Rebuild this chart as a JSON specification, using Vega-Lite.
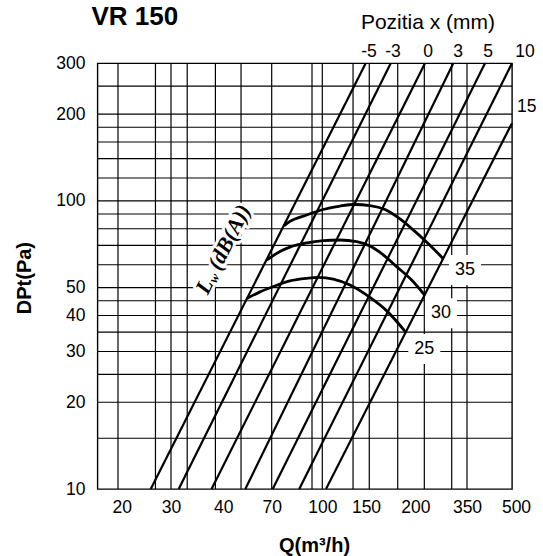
{
  "$schema": "https://vega.github.io/schema/vega-lite/v6.json",
  "width": 414.5,
  "height": 425.7,
  "autosize": {"type": "none"},
  "padding": {"left": 97.5, "top": 63.3, "right": 31, "bottom": 67},
  "background": "white",
  "title": {
    "text": "VR 150",
    "anchor": "start",
    "frame": "group",
    "font": "Liberation Sans",
    "fontSize": 26,
    "fontWeight": "bold",
    "color": "black",
    "baseline": "alphabetic",
    "offset": 0,
    "dx": -6,
    "dy": 39
  },
  "config": {
    "font": "Liberation Sans",
    "view": {"stroke": "black", "strokeWidth": 1.4},
    "axis": {
      "grid": false,
      "ticks": false,
      "tickSize": 0,
      "domain": false,
      "labelFont": "Liberation Sans",
      "labelFontSize": 17.5,
      "labelColor": "black",
      "labelFlush": false,
      "labelOverlap": false,
      "titleFont": "Liberation Sans",
      "titleFontSize": 20,
      "titleFontWeight": "bold",
      "titleColor": "black"
    }
  },
  "datasets": {
    "grid_q": [
      {"Q": 19.4}, {"Q": 26.4}, {"Q": 30}, {"Q": 32.8}, {"Q": 38.3},
      {"Q": 49.1}, {"Q": 70}, {"Q": 93}, {"Q": 100}, {"Q": 133},
      {"Q": 152.9}, {"Q": 180.5}, {"Q": 220.5}, {"Q": 296.6}, {"Q": 350}
    ],
    "grid_dp": [
      {"DPt": 15}, {"DPt": 20}, {"DPt": 25}, {"DPt": 30}, {"DPt": 35},
      {"DPt": 40}, {"DPt": 45}, {"DPt": 50}, {"DPt": 60}, {"DPt": 70},
      {"DPt": 80}, {"DPt": 90}, {"DPt": 100}, {"DPt": 120}, {"DPt": 140},
      {"DPt": 160}, {"DPt": 180}, {"DPt": 200}, {"DPt": 250}
    ],
    "positions": [
      {"pos": "-5", "Q": 25.4, "DPt": 10}, {"pos": "-5", "Q": 149.6, "DPt": 300},
      {"pos": "-3", "Q": 31.3, "DPt": 10}, {"pos": "-3", "Q": 173.3, "DPt": 300},
      {"pos": "0", "Q": 37.5, "DPt": 10}, {"pos": "0", "Q": 222.1, "DPt": 300},
      {"pos": "3", "Q": 51.6, "DPt": 10}, {"pos": "3", "Q": 301.8, "DPt": 300},
      {"pos": "5", "Q": 70.5, "DPt": 10}, {"pos": "5", "Q": 399, "DPt": 300},
      {"pos": "10", "Q": 85, "DPt": 10}, {"pos": "10", "Q": 485.6, "DPt": 300},
      {"pos": "15", "Q": 103.5, "DPt": 10}, {"pos": "15", "Q": 485.6, "DPt": 186}
    ],
    "levels": [
      {"Lw": 35, "Q": 76.3, "DPt": 81.8}, {"Lw": 35, "Q": 79.6, "DPt": 84.8},
      {"Lw": 35, "Q": 89.6, "DPt": 89.3}, {"Lw": 35, "Q": 100.9, "DPt": 93.3},
      {"Lw": 35, "Q": 117.8, "DPt": 95.9}, {"Lw": 35, "Q": 135.4, "DPt": 97.1},
      {"Lw": 35, "Q": 153.5, "DPt": 96.3}, {"Lw": 35, "Q": 167.6, "DPt": 93.3},
      {"Lw": 35, "Q": 182.9, "DPt": 86.5}, {"Lw": 35, "Q": 196.2, "DPt": 79.9},
      {"Lw": 35, "Q": 222.1, "DPt": 72.8}, {"Lw": 35, "Q": 270, "DPt": 63.1},
      {"Lw": 30, "Q": 66.1, "DPt": 62.3}, {"Lw": 30, "Q": 74.2, "DPt": 66.7},
      {"Lw": 30, "Q": 79.6, "DPt": 69.1}, {"Lw": 30, "Q": 89.6, "DPt": 71.4},
      {"Lw": 30, "Q": 100.9, "DPt": 72.7}, {"Lw": 30, "Q": 117.8, "DPt": 73.1},
      {"Lw": 30, "Q": 137.6, "DPt": 72.2}, {"Lw": 30, "Q": 153.5, "DPt": 69.7},
      {"Lw": 30, "Q": 165.6, "DPt": 65.1}, {"Lw": 30, "Q": 179.4, "DPt": 59.1},
      {"Lw": 30, "Q": 195.8, "DPt": 53.1}, {"Lw": 30, "Q": 221.2, "DPt": 47.1},
      {"Lw": 25, "Q": 52.9, "DPt": 45.9}, {"Lw": 25, "Q": 61.1, "DPt": 48.3},
      {"Lw": 25, "Q": 70.8, "DPt": 50.4}, {"Lw": 25, "Q": 79.6, "DPt": 52.7},
      {"Lw": 25, "Q": 89.6, "DPt": 53.8}, {"Lw": 25, "Q": 97.2, "DPt": 54.2},
      {"Lw": 25, "Q": 110.7, "DPt": 53.5}, {"Lw": 25, "Q": 129.3, "DPt": 51},
      {"Lw": 25, "Q": 153.5, "DPt": 46.2}, {"Lw": 25, "Q": 169.3, "DPt": 41.5},
      {"Lw": 25, "Q": 188.9, "DPt": 35.1}
    ],
    "level_labels": [
      {"Lw": "35", "Q": 342.5, "DPt": 57.5},
      {"Lw": "30", "Q": 264.1, "DPt": 40.7},
      {"Lw": "25", "Q": 220.5, "DPt": 30.6}
    ],
    "pos_labels": [
      {"pos": "-5", "Q": 152.6, "DPt": 329},
      {"pos": "-3", "Q": 175.6, "DPt": 329},
      {"pos": "0", "Q": 229.5, "DPt": 329},
      {"pos": "3", "Q": 317.5, "DPt": 329},
      {"pos": "5", "Q": 407.8, "DPt": 329},
      {"pos": "10", "Q": 533.9, "DPt": 329},
      {"pos": "15", "Q": 540.5, "DPt": 212.1}
    ],
    "heading": [
      {"text": "Pozitia x (mm)", "Q": 229.5, "DPt": 414}
    ],
    "lw_anchor": [
      {"Q": 35.5, "DPt": 48.1}
    ]
  },
  "layer": [
    {
      "data": {"name": "grid_q"},
      "mark": {"type": "rule", "color": "black", "strokeWidth": 1.2},
      "encoding": {
        "x": {
          "field": "Q",
          "type": "quantitative",
          "title": "Q(m³/h)",
          "scale": {"type": "log", "domain": [16.4, 20, 30, 40, 70, 100, 150, 200, 350, 500], "range": [0, 24.2, 73.5, 125.8, 174.2, 224.8, 268.5, 317.8, 369.5, 418.5], "nice": false},
          "axis": {
            "values": [20, 30, 40, 70, 100, 150, 200, 350, 500],
            "format": "d",
            "labelPadding": 9,
            "titleAlign": "center",
            "titleBaseline": "alphabetic",
            "titleX": 216.5,
            "titleY": 62.5
          }
        }
      }
    },
    {
      "data": {"name": "grid_dp"},
      "mark": {"type": "rule", "color": "black", "strokeWidth": 1.2},
      "encoding": {
        "y": {
          "field": "DPt",
          "type": "quantitative",
          "title": "DPt(Pa)",
          "scale": {"type": "log", "domain": [10, 300], "nice": false},
          "axis": {
            "values": [10, 20, 30, 40, 50, 100, 200, 300],
            "format": "d",
            "labelPadding": 12.5,
            "titleAngle": 270,
            "titleAlign": "center",
            "titleBaseline": "alphabetic",
            "titleX": -67,
            "titleY": 214.3
          }
        }
      }
    },
    {
      "data": {"name": "level_labels"},
      "mark": {"type": "point", "shape": "M-1.07,-1L1.07,-1L1.07,1L-1.07,1Z", "filled": true, "color": "white", "opacity": 1, "size": 900, "strokeWidth": 0},
      "encoding": {
        "x": {"field": "Q", "type": "quantitative", "scale": {"type": "log", "domain": [16.4, 20, 30, 40, 70, 100, 150, 200, 350, 500], "range": [0, 24.2, 73.5, 125.8, 174.2, 224.8, 268.5, 317.8, 369.5, 418.5], "nice": false}},
        "y": {"field": "DPt", "type": "quantitative", "scale": {"type": "log", "domain": [10, 300], "nice": false}}
      }
    },
    {
      "data": {"name": "lw_anchor"},
      "mark": {"type": "text", "text": "L", "angle": 296.6, "align": "left", "baseline": "middle", "font": "Liberation Serif", "fontSize": 22, "fontWeight": "bold", "fontStyle": "italic", "color": "white", "stroke": "white", "strokeWidth": 6, "strokeJoin": "round"},
      "encoding": {
        "x": {"field": "Q", "type": "quantitative", "scale": {"type": "log", "domain": [16.4, 20, 30, 40, 70, 100, 150, 200, 350, 500], "range": [0, 24.2, 73.5, 125.8, 174.2, 224.8, 268.5, 317.8, 369.5, 418.5], "nice": false}},
        "y": {"field": "DPt", "type": "quantitative", "scale": {"type": "log", "domain": [10, 300], "nice": false}}
      }
    },
    {
      "data": {"name": "lw_anchor"},
      "mark": {"type": "text", "text": "w", "angle": 296.6, "align": "left", "baseline": "middle", "dx": 14, "dy": 5, "font": "Liberation Serif", "fontSize": 13, "fontWeight": "bold", "fontStyle": "italic", "color": "white", "stroke": "white", "strokeWidth": 6, "strokeJoin": "round"},
      "encoding": {
        "x": {"field": "Q", "type": "quantitative", "scale": {"type": "log", "domain": [16.4, 20, 30, 40, 70, 100, 150, 200, 350, 500], "range": [0, 24.2, 73.5, 125.8, 174.2, 224.8, 268.5, 317.8, 369.5, 418.5], "nice": false}},
        "y": {"field": "DPt", "type": "quantitative", "scale": {"type": "log", "domain": [10, 300], "nice": false}}
      }
    },
    {
      "data": {"name": "lw_anchor"},
      "mark": {"type": "text", "text": "(dB(A))", "angle": 296.6, "align": "left", "baseline": "middle", "dx": 27, "font": "Liberation Serif", "fontSize": 22, "fontWeight": "bold", "fontStyle": "italic", "color": "white", "stroke": "white", "strokeWidth": 6, "strokeJoin": "round"},
      "encoding": {
        "x": {"field": "Q", "type": "quantitative", "scale": {"type": "log", "domain": [16.4, 20, 30, 40, 70, 100, 150, 200, 350, 500], "range": [0, 24.2, 73.5, 125.8, 174.2, 224.8, 268.5, 317.8, 369.5, 418.5], "nice": false}},
        "y": {"field": "DPt", "type": "quantitative", "scale": {"type": "log", "domain": [10, 300], "nice": false}}
      }
    },
    {
      "data": {"name": "positions"},
      "mark": {"type": "line", "color": "black", "strokeWidth": 2.2},
      "encoding": {
        "x": {"field": "Q", "type": "quantitative", "scale": {"type": "log", "domain": [16.4, 20, 30, 40, 70, 100, 150, 200, 350, 500], "range": [0, 24.2, 73.5, 125.8, 174.2, 224.8, 268.5, 317.8, 369.5, 418.5], "nice": false}},
        "y": {"field": "DPt", "type": "quantitative", "scale": {"type": "log", "domain": [10, 300], "nice": false}},
        "detail": {"field": "pos", "type": "nominal"}
      }
    },
    {
      "data": {"name": "levels"},
      "mark": {"type": "line", "color": "black", "strokeWidth": 2.8, "interpolate": "monotone"},
      "encoding": {
        "x": {"field": "Q", "type": "quantitative", "scale": {"type": "log", "domain": [16.4, 20, 30, 40, 70, 100, 150, 200, 350, 500], "range": [0, 24.2, 73.5, 125.8, 174.2, 224.8, 268.5, 317.8, 369.5, 418.5], "nice": false}},
        "y": {"field": "DPt", "type": "quantitative", "scale": {"type": "log", "domain": [10, 300], "nice": false}},
        "detail": {"field": "Lw", "type": "nominal"}
      }
    },
    {
      "data": {"name": "lw_anchor"},
      "mark": {"type": "text", "text": "L", "angle": 296.6, "align": "left", "baseline": "middle", "font": "Liberation Serif", "fontSize": 22, "fontWeight": "bold", "fontStyle": "italic", "color": "black"},
      "encoding": {
        "x": {"field": "Q", "type": "quantitative", "scale": {"type": "log", "domain": [16.4, 20, 30, 40, 70, 100, 150, 200, 350, 500], "range": [0, 24.2, 73.5, 125.8, 174.2, 224.8, 268.5, 317.8, 369.5, 418.5], "nice": false}},
        "y": {"field": "DPt", "type": "quantitative", "scale": {"type": "log", "domain": [10, 300], "nice": false}}
      }
    },
    {
      "data": {"name": "lw_anchor"},
      "mark": {"type": "text", "text": "w", "angle": 296.6, "align": "left", "baseline": "middle", "dx": 14, "dy": 5, "font": "Liberation Serif", "fontSize": 13, "fontWeight": "bold", "fontStyle": "italic", "color": "black"},
      "encoding": {
        "x": {"field": "Q", "type": "quantitative", "scale": {"type": "log", "domain": [16.4, 20, 30, 40, 70, 100, 150, 200, 350, 500], "range": [0, 24.2, 73.5, 125.8, 174.2, 224.8, 268.5, 317.8, 369.5, 418.5], "nice": false}},
        "y": {"field": "DPt", "type": "quantitative", "scale": {"type": "log", "domain": [10, 300], "nice": false}}
      }
    },
    {
      "data": {"name": "lw_anchor"},
      "mark": {"type": "text", "text": "(dB(A))", "angle": 296.6, "align": "left", "baseline": "middle", "dx": 27, "font": "Liberation Serif", "fontSize": 22, "fontWeight": "bold", "fontStyle": "italic", "color": "black"},
      "encoding": {
        "x": {"field": "Q", "type": "quantitative", "scale": {"type": "log", "domain": [16.4, 20, 30, 40, 70, 100, 150, 200, 350, 500], "range": [0, 24.2, 73.5, 125.8, 174.2, 224.8, 268.5, 317.8, 369.5, 418.5], "nice": false}},
        "y": {"field": "DPt", "type": "quantitative", "scale": {"type": "log", "domain": [10, 300], "nice": false}}
      }
    },
    {
      "data": {"name": "level_labels"},
      "mark": {"type": "text", "align": "center", "baseline": "middle", "fontSize": 18, "color": "black"},
      "encoding": {
        "x": {"field": "Q", "type": "quantitative", "scale": {"type": "log", "domain": [16.4, 20, 30, 40, 70, 100, 150, 200, 350, 500], "range": [0, 24.2, 73.5, 125.8, 174.2, 224.8, 268.5, 317.8, 369.5, 418.5], "nice": false}},
        "y": {"field": "DPt", "type": "quantitative", "scale": {"type": "log", "domain": [10, 300], "nice": false}},
        "text": {"field": "Lw", "type": "nominal"}
      }
    },
    {
      "data": {"name": "pos_labels"},
      "mark": {"type": "text", "align": "center", "baseline": "middle", "fontSize": 17.5, "color": "black"},
      "encoding": {
        "x": {"field": "Q", "type": "quantitative", "scale": {"type": "log", "domain": [16.4, 20, 30, 40, 70, 100, 150, 200, 350, 500], "range": [0, 24.2, 73.5, 125.8, 174.2, 224.8, 268.5, 317.8, 369.5, 418.5], "nice": false}},
        "y": {"field": "DPt", "type": "quantitative", "scale": {"type": "log", "domain": [10, 300], "nice": false}},
        "text": {"field": "pos", "type": "nominal"}
      }
    },
    {
      "data": {"name": "heading"},
      "mark": {"type": "text", "align": "center", "baseline": "middle", "fontSize": 21, "color": "black"},
      "encoding": {
        "x": {"field": "Q", "type": "quantitative", "scale": {"type": "log", "domain": [16.4, 20, 30, 40, 70, 100, 150, 200, 350, 500], "range": [0, 24.2, 73.5, 125.8, 174.2, 224.8, 268.5, 317.8, 369.5, 418.5], "nice": false}},
        "y": {"field": "DPt", "type": "quantitative", "scale": {"type": "log", "domain": [10, 300], "nice": false}},
        "text": {"field": "text", "type": "nominal"}
      }
    }
  ]
}
